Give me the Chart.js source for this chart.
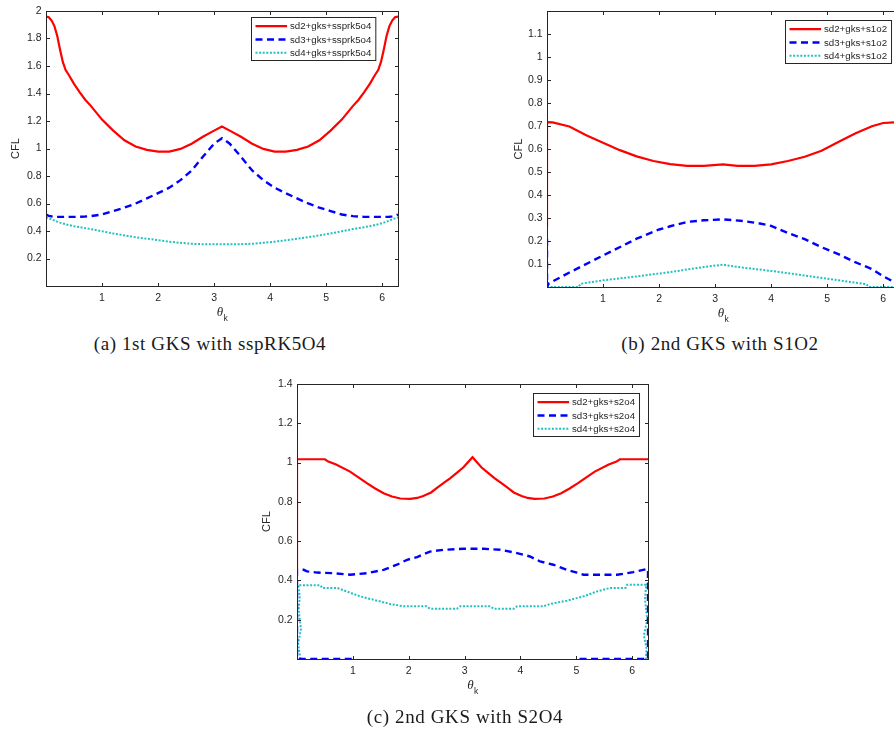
<!DOCTYPE html>
<html>
<head>
<meta charset="utf-8">
<script src="https://cdn.jsdelivr.net/npm/chart.js@4.4.1/dist/chart.umd.min.js"></script>
<style>
html,body{margin:0;padding:0;background:#fff;overflow:hidden;}
#page{position:relative;width:894px;height:731px;overflow:hidden;}
canvas{position:absolute;}
.cap{position:absolute;font-family:"Liberation Serif","Times New Roman",serif;font-size:19px;color:#1a1a1a;white-space:nowrap;transform:translateX(-50%);letter-spacing:0.6px;}
</style>
</head>
<body>
<div id="page">
  <canvas id="cA" width="420" height="330" style="left:0;top:0"></canvas>
  <canvas id="cB" width="470" height="330" style="left:470px;top:0"></canvas>
  <canvas id="cC" width="420" height="361" style="left:250px;top:370px"></canvas>
  <div class="cap" style="left:210px;top:333px">(a) 1st GKS with sspRK5O4</div>
  <div class="cap" style="left:720px;top:333px">(b) 2nd GKS with S1O2</div>
  <div class="cap" style="left:465px;top:706px">(c) 2nd GKS with S2O4</div>
</div>
<script>
// ---------------- ticks ----------------
const xTicks = [1, 2, 3, 4, 5, 6];
const yTicksA = [0.2, 0.4, 0.6, 0.8, 1, 1.2, 1.4, 1.6, 1.8, 2];
const yTicksB = [0.1, 0.2, 0.3, 0.4, 0.5, 0.6, 0.7, 0.8, 0.9, 1, 1.1];
const yTicksC = [0.2, 0.4, 0.6, 0.8, 1, 1.2, 1.4];

// ---------------- (a) 1st GKS + sspRK5O4 ----------------
const labelsA = ["sd2+gks+ssprk5o4", "sd3+gks+ssprk5o4", "sd4+gks+ssprk5o4"];
const thetaA = [0, 0.05, 0.1, 0.15, 0.2, 0.25, 0.3, 0.35, 0.4, 0.5, 0.6, 0.7, 0.8, 1.0, 1.2, 1.4, 1.6, 1.8, 2.0, 2.2, 2.4, 2.6, 2.8, 3.0,
  3.1416,
  3.28, 3.48, 3.68, 3.88, 4.08, 4.28, 4.48, 4.68, 4.88, 5.08, 5.28, 5.48, 5.58, 5.68, 5.78, 5.88, 5.93, 5.98, 6.03, 6.08, 6.13, 6.18, 6.23, 6.2832];
const sd2A = [1.96, 1.955, 1.93, 1.89, 1.82, 1.72, 1.63, 1.57, 1.54, 1.47, 1.41, 1.355, 1.31, 1.21, 1.13, 1.06, 1.015, 0.99, 0.978, 0.978, 0.997, 1.035, 1.085, 1.13,
  1.16,
  1.13, 1.085, 1.035, 0.997, 0.978, 0.978, 0.99, 1.015, 1.06, 1.13, 1.21, 1.31, 1.355, 1.41, 1.47, 1.54, 1.57, 1.63, 1.72, 1.82, 1.89, 1.93, 1.955, 1.96];
const sd3A = [0.52, 0.51, 0.506, 0.504, 0.503, 0.503, 0.503, 0.503, 0.503, 0.503, 0.503, 0.505, 0.508, 0.52, 0.545, 0.57, 0.6, 0.637, 0.675, 0.715, 0.77, 0.84, 0.94, 1.035,
  1.075,
  1.035, 0.94, 0.84, 0.77, 0.715, 0.675, 0.637, 0.6, 0.57, 0.545, 0.52, 0.508, 0.505, 0.503, 0.503, 0.503, 0.503, 0.503, 0.503, 0.503, 0.504, 0.506, 0.51, 0.52];
const sd4A = [0.498, 0.492, 0.485, 0.476, 0.468, 0.461, 0.455, 0.449, 0.444, 0.435, 0.428, 0.421, 0.414, 0.398, 0.382, 0.368, 0.355, 0.344, 0.333, 0.322, 0.314, 0.307, 0.304, 0.304,
  0.304,
  0.304, 0.304, 0.307, 0.314, 0.322, 0.333, 0.344, 0.355, 0.368, 0.382, 0.398, 0.414, 0.421, 0.428, 0.435, 0.444, 0.449, 0.455, 0.461, 0.468, 0.476, 0.485, 0.492, 0.498];

// ---------------- (b) 2nd GKS + S1O2 ----------------
const labelsB = ["sd2+gks+s1o2", "sd3+gks+s1o2", "sd4+gks+s1o2"];
const thetaB2 = [0, 0, 0.1, 0.4, 0.7, 1.0, 1.3, 1.6, 1.9, 2.2, 2.5, 2.8, 3.1416, 3.4, 3.7, 4.0, 4.3, 4.6, 4.9, 5.2, 5.5, 5.8, 6.0, 6.2, 6.2832];
const sd2B = [0.26, 0.717, 0.716, 0.698, 0.66, 0.627, 0.595, 0.568, 0.548, 0.534, 0.527, 0.527, 0.533, 0.527, 0.527, 0.533, 0.548, 0.566, 0.592, 0.63, 0.667, 0.699, 0.713, 0.716, 0.717];
const thetaB3 = [0, 0, 0.03, 0.4, 1.0, 1.6, 2.0, 2.2, 2.5, 2.8, 3.1416, 3.5, 3.8, 4.0, 4.3, 4.6, 4.9, 5.2, 5.5, 5.8, 6.0, 6.2, 6.2832];
const sd3B = [0.21, 0, 0.015, 0.063, 0.137, 0.21, 0.25, 0.264, 0.283, 0.29, 0.294, 0.287, 0.276, 0.266, 0.235, 0.208, 0.173, 0.143, 0.108, 0.078, 0.047, 0.021, 0.012];
const thetaB4 = [0, 0.56, 0.6, 1.0, 1.6, 2.2, 2.8, 3.1416, 3.4, 4.0, 4.6, 5.2, 5.7, 5.75, 6.2832];
const sd4B = [0, 0, 0.014, 0.029, 0.046, 0.065, 0.087, 0.097, 0.087, 0.07, 0.05, 0.029, 0.012, 0, 0];

// ---------------- (c) 2nd GKS + S2O4 ----------------
const labelsC = ["sd2+gks+s2o4", "sd3+gks+s2o4", "sd4+gks+s2o4"];
const thetaC2 = [0, 0, 0.5, 0.56, 0.7, 0.95, 1.1, 1.25, 1.4, 1.55, 1.7, 1.85, 2.03, 2.15, 2.26, 2.4, 2.5, 2.62, 2.74, 2.86, 2.98,
  3.1416,
  3.3, 3.42, 3.54, 3.66, 3.78, 3.88, 4.02, 4.13, 4.25, 4.43, 4.58, 4.73, 4.88, 5.03, 5.18, 5.33, 5.58, 5.72, 5.78, 6.2832, 6.2832];
const sd2C = [0.454, 1.017, 1.017, 1.005, 0.99, 0.954, 0.925, 0.895, 0.868, 0.844, 0.827, 0.817, 0.815, 0.82, 0.83, 0.848, 0.87, 0.895, 0.92, 0.948, 0.976,
  1.027,
  0.976, 0.948, 0.92, 0.895, 0.87, 0.848, 0.83, 0.82, 0.815, 0.817, 0.827, 0.844, 0.868, 0.895, 0.925, 0.954, 0.99, 1.005, 1.017, 1.017, 0.53];
const thetaC3 = [0.98, 0, 0, 0.12, 0.18, 0.36, 0.65, 0.95, 1.25, 1.55, 1.79, 1.97, 2.15, 2.38, 2.62, 2.98, 3.34, 3.64, 3.94, 4.17, 4.35, 4.59, 4.83, 5.01, 5.13, 5.43, 5.73, 6.02, 6.26, 6.2832, 6.2832, 5.02];
const sd3C = [0, 0, 0.454, 0.454, 0.446, 0.44, 0.437, 0.429, 0.437, 0.454, 0.48, 0.505, 0.519, 0.547, 0.556, 0.561, 0.561, 0.556, 0.539, 0.522, 0.497, 0.48, 0.454, 0.44, 0.429, 0.429, 0.429, 0.442, 0.458, 0.458, 0, 0];
const thetaC4 = [0.06, 0.02, 0.07, 0.03, 0.05, 0.02, 0.42, 0.45, 0.72, 0.89, 1.13, 1.43, 1.67, 1.91, 2.32, 2.38, 2.86, 2.92, 3.46, 3.52, 3.88, 3.94, 4.41, 4.53, 4.83, 5.13, 5.37, 5.61, 5.88, 5.91, 6.25, 6.23, 6.27, 6.21, 6.26, 6.24];
const sd4C = [0, 0.08, 0.15, 0.25, 0.32, 0.375, 0.375, 0.362, 0.362, 0.344, 0.319, 0.297, 0.28, 0.268, 0.268, 0.256, 0.256, 0.268, 0.268, 0.256, 0.256, 0.268, 0.268, 0.28, 0.297, 0.319, 0.344, 0.362, 0.362, 0.378, 0.378, 0.3, 0.2, 0.12, 0.05, 0];

// ---------------- estilo das linhas ----------------
const RED = "#ff0000", BLUE = "#0000ff", CYAN = "#22c0c0";
const AXIS = "#262626";
const SANS = '"Liberation Sans", Arial, Helvetica, sans-serif';

function line(label, xs, ys, color, width, dash){
  return {label, data: xs.map((t,i)=>({x:t, y:ys[i]})), borderColor: color, borderWidth: width,
    borderDash: dash, pointRadius: 0, tension: 0, fill: false};
}
const styles = [[RED, 2.2, []], [BLUE, 2.4, [7, 4.5]], [CYAN, 2, [2, 1.6]]];

// box, inward ticks on all four sides, axis titles and the legend box
const matlabFrame = {
  id: "matlabFrame",
  afterDatasetsDraw(chart, args, o){
    const {ctx, chartArea: a, scales: {x, y}} = chart;
    const L = Math.round(a.left)+0.5, T = Math.round(a.top)+0.5, R = Math.round(a.right)+0.5, B = Math.round(a.bottom)+0.5;
    ctx.save();
    ctx.strokeStyle = AXIS; ctx.lineWidth = 1; ctx.setLineDash([]);
    ctx.strokeRect(L, T, R-L, B-T);
    ctx.beginPath();
    x.ticks.forEach(t=>{
      const px = Math.round(x.getPixelForValue(t.value))+0.5;
      ctx.moveTo(px, B); ctx.lineTo(px, B-o.tick);
      ctx.moveTo(px, T); ctx.lineTo(px, T+o.tick);
    });
    y.ticks.forEach(t=>{
      const py = Math.round(y.getPixelForValue(t.value))+0.5;
      ctx.moveTo(L, py); ctx.lineTo(L+o.tick, py);
      ctx.moveTo(R, py); ctx.lineTo(R-o.tick, py);
    });
    ctx.stroke();

    // CFL
    ctx.fillStyle = AXIS;
    ctx.save();
    ctx.translate(a.left - o.yTitleOff, (a.top+a.bottom)/2);
    ctx.rotate(-Math.PI/2);
    ctx.font = "11px " + SANS; ctx.textAlign = "center"; ctx.textBaseline = "middle";
    ctx.fillText("CFL", 0, 0);
    ctx.restore();

    // theta_k
    const cx = (a.left+a.right)/2, ty = a.bottom + 27;
    ctx.font = 'italic 13px "Liberation Serif", serif'; ctx.textAlign = "center"; ctx.textBaseline = "middle";
    ctx.fillText("θ", cx-2, ty);
    ctx.font = "8.5px " + SANS; ctx.textAlign = "left";
    ctx.fillText("k", cx+1.5, ty+6);

    // legend
    ctx.font = "9.7px " + SANS;
    const ds = chart.data.datasets;
    const tw = Math.max(...ds.map(d=>ctx.measureText(d.label).width));
    const w = 38.5 + tw + 4.5, h = 43;
    const lx = Math.round(o.legendRight - w)+0.5, ly = Math.round(o.legendTop)+0.5;
    ctx.fillStyle = "#fff"; ctx.fillRect(lx, ly, w, h);
    ctx.strokeStyle = AXIS; ctx.lineWidth = 1; ctx.strokeRect(lx, ly, w, h);
    const rows = [8.7, 22, 35.3];
    ds.forEach((d,i)=>{
      const ry = ly + rows[i];
      ctx.strokeStyle = d.borderColor; ctx.lineWidth = d.borderWidth; ctx.setLineDash(d.borderDash);
      ctx.beginPath(); ctx.moveTo(lx+4, ry); ctx.lineTo(lx+35.6, ry); ctx.stroke();
      ctx.setLineDash([]);
      ctx.fillStyle = AXIS; ctx.textAlign = "left"; ctx.textBaseline = "middle";
      ctx.fillText(d.label, lx+38.5, ry+0.5);
    });
    ctx.restore();
  }
};

function framedChart(id, datasets, yMax, yTicks, box, frame){
  const cv = document.getElementById(id);
  return new Chart(cv, {
    type: "line",
    data: {datasets},
    options: {
      responsive: false, animation: false, devicePixelRatio: 1, events: [],
      layout: {padding: {top: box.top, right: cv.width - box.right, left: 0, bottom: 0}},
      plugins: {legend: {display: false}, tooltip: {enabled: false}, matlabFrame: frame},
      scales: {
        x: {type: "linear", min: 0, max: 2*Math.PI,
          afterBuildTicks: s=>{ s.ticks = xTicks.map(v=>({value:v})); },
          afterFit: s=>{ s.height = cv.height - box.bottom; },
          grid: {display: false, drawTicks: false}, border: {display: false},
          ticks: {padding: 6, maxRotation: 0, autoSkip: false, color: AXIS, font: {family: SANS, size: 10.5}, callback: v=>String(v)}},
        y: {type: "linear", min: 0, max: yMax,
          afterBuildTicks: s=>{ s.ticks = yTicks.map(v=>({value:v})); },
          afterFit: s=>{ s.width = box.left; },
          grid: {display: false, drawTicks: false}, border: {display: false},
          ticks: {padding: 4.5, autoSkip: false, color: AXIS, font: {family: SANS, size: 10.5}, callback: v=>String(v)}}
      }
    },
    plugins: [matlabFrame]
  });
}

framedChart("cA", [
  line(labelsA[0], thetaA, sd2A, ...styles[0]),
  line(labelsA[1], thetaA, sd3A, ...styles[1]),
  line(labelsA[2], thetaA, sd4A, ...styles[2])
], 2, yTicksA, {left: 46, top: 11, right: 398, bottom: 286}, {tick: 3.5, yTitleOff: 30, legendRight: 375, legendTop: 17.3});

framedChart("cB", [
  line(labelsB[0], thetaB2, sd2B, ...styles[0]),
  line(labelsB[1], thetaB3, sd3B, ...styles[1]),
  line(labelsB[2], thetaB4, sd4B, ...styles[2])
], 1.2, yTicksB, {left: 77, top: 11, right: 429, bottom: 287}, {tick: 3.5, yTitleOff: 28.5, legendRight: 420.7, legendTop: 20});

framedChart("cC", [
  line(labelsC[0], thetaC2, sd2C, ...styles[0]),
  line(labelsC[1], thetaC3, sd3C, ...styles[1]),
  line(labelsC[2], thetaC4, sd4C, ...styles[2])
], 1.4, yTicksC, {left: 47, top: 14, right: 398, bottom: 289}, {tick: 3.5, yTitleOff: 30, legendRight: 389.3, legendTop: 22.7});
</script>
</body>
</html>
